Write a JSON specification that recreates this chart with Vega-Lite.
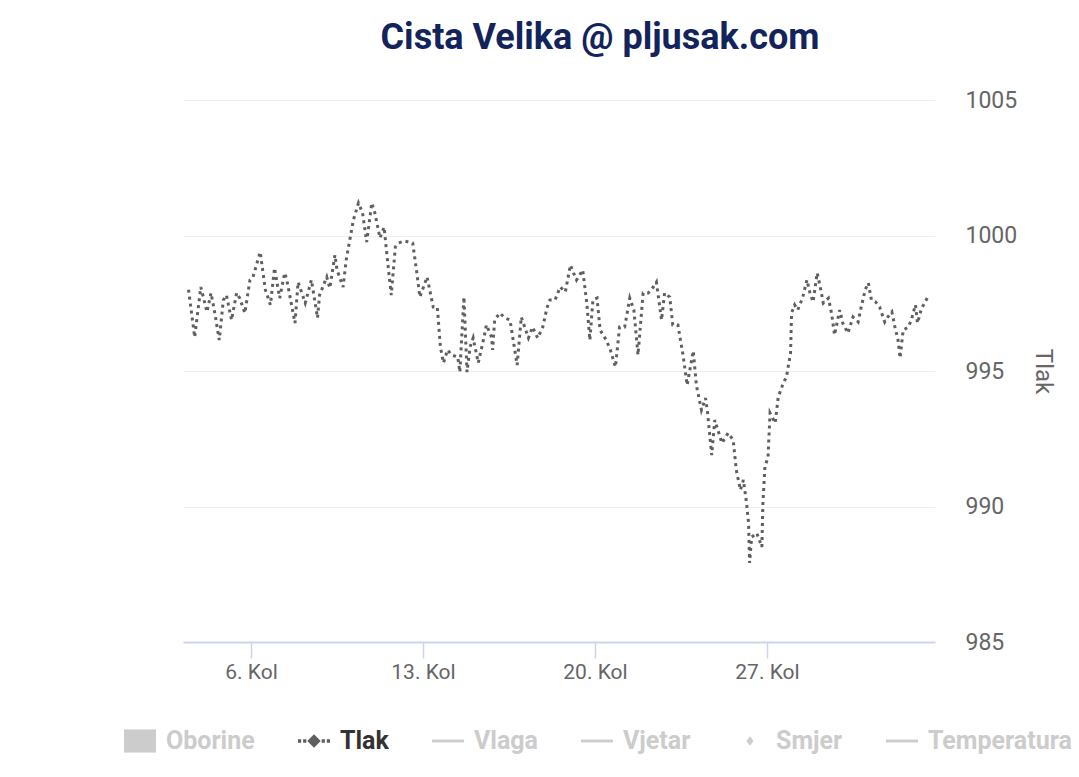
{
  "$schema": "https://vega.github.io/schema/vega-lite/v6.json",
  "autosize": "none",
  "padding": {"left": 183, "top": 100, "right": 144, "bottom": 135},
  "width": 752,
  "height": 542,
  "background": "white",
  "config": {"font": "Roboto", "view": {"stroke": null}},
  "title": {"text": "Cista Velika @ pljusak.com", "fontSize": 36, "fontWeight": "bold", "color": "#13235b", "anchor": "middle", "dx": 41, "offset": 32, "font": "Roboto"},
  "data": {"values": [
    {"t":"2023-08-03T11:00","p":998.0},{"t":"2023-08-03T17:00","p":996.25},{"t":"2023-08-03T23:00","p":998.1},{"t":"2023-08-04T05:00","p":997.18},
    {"t":"2023-08-04T09:00","p":997.88},{"t":"2023-08-04T13:00","p":997.07},{"t":"2023-08-04T17:00","p":996.14},{"t":"2023-08-04T21:00","p":997.62},
    {"t":"2023-08-05T00:00","p":997.8},{"t":"2023-08-05T05:00","p":996.88},{"t":"2023-08-05T10:00","p":997.88},{"t":"2023-08-05T13:00","p":997.69},
    {"t":"2023-08-05T18:00","p":997.14},{"t":"2023-08-05T23:00","p":998.36},{"t":"2023-08-06T02:00","p":998.47},{"t":"2023-08-06T09:00","p":999.39},
    {"t":"2023-08-06T11:00","p":998.84},{"t":"2023-08-06T14:00","p":998.0},{"t":"2023-08-06T19:00","p":997.44},{"t":"2023-08-06T23:00","p":998.8},
    {"t":"2023-08-07T04:00","p":997.69},{"t":"2023-08-07T09:00","p":998.62},{"t":"2023-08-07T11:00","p":998.36},{"t":"2023-08-07T19:00","p":996.77},
    {"t":"2023-08-07T22:00","p":998.28},{"t":"2023-08-08T05:00","p":997.51},{"t":"2023-08-08T11:00","p":998.36},{"t":"2023-08-08T17:00","p":996.96},
    {"t":"2023-08-08T19:00","p":997.8},{"t":"2023-08-09T02:00","p":998.47},{"t":"2023-08-09T05:00","p":998.06},{"t":"2023-08-09T10:00","p":999.28},
    {"t":"2023-08-09T12:00","p":998.73},{"t":"2023-08-09T18:00","p":998.1},{"t":"2023-08-09T21:00","p":999.1},{"t":"2023-08-10T01:00","p":999.94},
    {"t":"2023-08-10T04:00","p":1000.57},{"t":"2023-08-10T09:00","p":1001.2},{"t":"2023-08-10T13:00","p":1000.83},{"t":"2023-08-10T17:00","p":999.76},
    {"t":"2023-08-10T22:00","p":1001.2},{"t":"2023-08-11T01:00","p":1000.83},{"t":"2023-08-11T06:00","p":999.91},{"t":"2023-08-11T10:00","p":1000.31},
    {"t":"2023-08-11T13:00","p":999.21},{"t":"2023-08-11T17:00","p":997.8},{"t":"2023-08-11T21:00","p":999.58},{"t":"2023-08-12T00:00","p":999.72},
    {"t":"2023-08-12T06:00","p":999.8},{"t":"2023-08-12T14:00","p":999.72},{"t":"2023-08-12T18:00","p":998.62},{"t":"2023-08-12T21:00","p":997.73},
    {"t":"2023-08-13T04:00","p":998.47},{"t":"2023-08-13T10:00","p":997.36},{"t":"2023-08-13T14:00","p":997.36},{"t":"2023-08-13T17:00","p":995.89},
    {"t":"2023-08-13T20:00","p":995.3},{"t":"2023-08-14T00:00","p":995.78},{"t":"2023-08-14T04:00","p":995.59},{"t":"2023-08-14T10:00","p":995.52},
    {"t":"2023-08-14T12:00","p":994.96},{"t":"2023-08-14T16:00","p":997.73},{"t":"2023-08-14T19:00","p":994.96},{"t":"2023-08-14T22:00","p":995.89},
    {"t":"2023-08-15T01:00","p":996.22},{"t":"2023-08-15T06:00","p":995.3},{"t":"2023-08-15T11:00","p":996.14},{"t":"2023-08-15T14:00","p":996.7},
    {"t":"2023-08-15T19:00","p":996.25},{"t":"2023-08-15T20:00","p":995.78},{"t":"2023-08-15T22:00","p":996.88},{"t":"2023-08-16T03:00","p":997.14},
    {"t":"2023-08-16T08:00","p":996.96},{"t":"2023-08-16T13:00","p":996.88},{"t":"2023-08-16T20:00","p":995.22},{"t":"2023-08-17T00:00","p":996.99},
    {"t":"2023-08-17T07:00","p":996.22},{"t":"2023-08-17T11:00","p":996.62},{"t":"2023-08-17T16:00","p":996.22},{"t":"2023-08-17T21:00","p":996.62},
    {"t":"2023-08-18T01:00","p":997.32},{"t":"2023-08-18T04:00","p":997.62},{"t":"2023-08-18T09:00","p":997.62},{"t":"2023-08-18T14:00","p":998.1},
    {"t":"2023-08-18T19:00","p":997.92},{"t":"2023-08-19T00:00","p":998.91},{"t":"2023-08-19T03:00","p":998.62},{"t":"2023-08-19T06:00","p":998.36},
    {"t":"2023-08-19T12:00","p":998.73},{"t":"2023-08-19T16:00","p":997.51},{"t":"2023-08-19T19:00","p":996.14},{"t":"2023-08-19T22:00","p":997.62},
    {"t":"2023-08-20T02:00","p":997.69},{"t":"2023-08-20T05:00","p":996.51},{"t":"2023-08-20T11:00","p":996.14},{"t":"2023-08-20T15:00","p":995.78},
    {"t":"2023-08-20T20:00","p":995.15},{"t":"2023-08-21T00:00","p":996.62},{"t":"2023-08-21T05:00","p":996.62},{"t":"2023-08-21T10:00","p":997.69},
    {"t":"2023-08-21T14:00","p":997.25},{"t":"2023-08-21T18:00","p":995.59},{"t":"2023-08-21T23:00","p":997.88},{"t":"2023-08-22T04:00","p":997.88},
    {"t":"2023-08-22T09:00","p":998.1},{"t":"2023-08-22T12:00","p":998.28},{"t":"2023-08-22T17:00","p":996.88},{"t":"2023-08-22T20:00","p":997.88},
    {"t":"2023-08-23T01:00","p":997.73},{"t":"2023-08-23T04:00","p":996.7},{"t":"2023-08-23T09:00","p":996.7},{"t":"2023-08-23T14:00","p":995.59},
    {"t":"2023-08-23T18:00","p":994.48},{"t":"2023-08-24T00:00","p":995.74},{"t":"2023-08-24T03:00","p":994.48},{"t":"2023-08-24T08:00","p":993.56},
    {"t":"2023-08-24T12:00","p":994.0},{"t":"2023-08-24T14:00","p":993.45},{"t":"2023-08-24T18:00","p":991.9},{"t":"2023-08-24T21:00","p":993.19},
    {"t":"2023-08-25T04:00","p":992.34},{"t":"2023-08-25T10:00","p":992.71},{"t":"2023-08-25T15:00","p":992.45},{"t":"2023-08-25T18:00","p":991.35},
    {"t":"2023-08-25T22:00","p":990.61},{"t":"2023-08-26T01:00","p":990.98},{"t":"2023-08-26T04:00","p":990.13},{"t":"2023-08-26T06:00","p":989.39},
    {"t":"2023-08-26T07:00","p":987.92},{"t":"2023-08-26T09:00","p":988.87},{"t":"2023-08-26T14:00","p":989.02},{"t":"2023-08-26T19:00","p":988.51},
    {"t":"2023-08-26T20:00","p":990.13},{"t":"2023-08-26T22:00","p":991.46},{"t":"2023-08-27T01:00","p":991.83},{"t":"2023-08-27T03:00","p":993.45},
    {"t":"2023-08-27T08:00","p":993.08},{"t":"2023-08-27T11:00","p":994.04},{"t":"2023-08-27T16:00","p":994.56},{"t":"2023-08-27T19:00","p":994.78},
    {"t":"2023-08-27T23:00","p":995.66},{"t":"2023-08-28T00:00","p":997.14},{"t":"2023-08-28T03:00","p":997.44},{"t":"2023-08-28T06:00","p":997.25},
    {"t":"2023-08-28T11:00","p":997.73},{"t":"2023-08-28T15:00","p":998.36},{"t":"2023-08-28T18:00","p":997.88},{"t":"2023-08-28T21:00","p":997.55},
    {"t":"2023-08-29T01:00","p":998.62},{"t":"2023-08-29T04:00","p":998.1},{"t":"2023-08-29T07:00","p":997.51},{"t":"2023-08-29T12:00","p":997.69},
    {"t":"2023-08-29T15:00","p":997.14},{"t":"2023-08-29T18:00","p":996.33},{"t":"2023-08-29T23:00","p":997.25},{"t":"2023-08-30T02:00","p":996.77},
    {"t":"2023-08-30T07:00","p":996.4},{"t":"2023-08-30T12:00","p":996.99},{"t":"2023-08-30T17:00","p":996.81},{"t":"2023-08-30T20:00","p":997.36},
    {"t":"2023-08-31T00:00","p":998.0},{"t":"2023-08-31T03:00","p":998.25},{"t":"2023-08-31T06:00","p":997.62},{"t":"2023-08-31T10:00","p":997.55},
    {"t":"2023-08-31T14:00","p":997.36},{"t":"2023-08-31T19:00","p":996.81},{"t":"2023-08-31T22:00","p":996.99},{"t":"2023-09-01T02:00","p":997.18},
    {"t":"2023-09-01T05:00","p":996.62},{"t":"2023-09-01T08:00","p":996.14},{"t":"2023-09-01T10:00","p":995.48},{"t":"2023-09-01T13:00","p":996.51},
    {"t":"2023-09-01T18:00","p":996.62},{"t":"2023-09-01T21:00","p":996.88},{"t":"2023-09-02T01:00","p":997.44},{"t":"2023-09-02T03:00","p":996.77},
    {"t":"2023-09-02T07:00","p":997.32},{"t":"2023-09-02T10:00","p":997.51},{"t":"2023-09-02T13:00","p":997.73}
  ]},
  "mark": {"type": "line", "strokeWidth": 3, "strokeDash": [3, 4], "strokeCap": "butt", "interpolate": "linear"},
  "encoding": {
    "x": {
      "field": "t", "type": "temporal",
      "scale": {"domain": [{"year": 2023, "month": 8, "date": 3, "hours": 5, "minutes": 36}, {"year": 2023, "month": 9, "date": 2, "hours": 20, "minutes": 6}]},
      "axis": {
        "title": null, "grid": false,
        "values": [{"year": 2023, "month": 8, "date": 6}, {"year": 2023, "month": 8, "date": 13}, {"year": 2023, "month": 8, "date": 20}, {"year": 2023, "month": 8, "date": 27}],
        "labelExpr": "timeFormat(datum.value, '%-d') + '. Kol'",
        "labelFontSize": 21, "labelColor": "#666666", "labelPadding": 3,
        "domainColor": "#ccd6eb", "domainWidth": 2,
        "tickColor": "#ccd6eb", "tickWidth": 1.5, "tickSize": 16
      }
    },
    "y": {
      "field": "p", "type": "quantitative",
      "scale": {"domain": [985, 1005], "nice": false, "zero": false},
      "axis": {
        "orient": "right", "title": "Tlak", "values": [985, 990, 995, 1000, 1005], "format": "d",
        "domain": false, "ticks": false, "labelPadding": 30,
        "labelFontSize": 23, "labelColor": "#666666",
        "gridColor": "#efefef", "gridWidth": 1,
        "titleFontSize": 24, "titleFontWeight": "normal", "titleColor": "#666666", "titlePadding": 14
      }
    },
    "color": {
      "datum": "Tlak",
      "scale": {"domain": ["Oborine", "Tlak", "Vlaga", "Vjetar", "Smjer", "Temperatura"], "range": ["#cccccc", "#5f5f5f", "#cccccc", "#cccccc", "#cccccc", "#cccccc"]},
      "legend": {
        "title": null, "orient": "none", "legendX": -59, "legendY": 625,
        "direction": "horizontal", "columns": 6, "columnPadding": 43,
        "symbolSize": 1024, "labelOffset": 10,
        "labelFontSize": 25, "labelFontWeight": "bold", "labelFont": "Roboto",
        "encode": {
          "symbols": {"update": {
            "shape": {"signal": "datum.value === 'Oborine' ? 'M-1,-0.72H1V0.72H-1Z' : datum.value === 'Tlak' ? 'M-1,-0.11H-0.8V0.11H-1Z M-0.68,-0.11H-0.48V0.11H-0.68Z M0,-0.42L0.42,0L0,0.42L-0.42,0Z M0.48,-0.11H0.68V0.11H0.48Z M0.8,-0.11H1V0.11H0.8Z' : datum.value === 'Smjer' ? 'M0,-0.3L0.22,0L0,0.3L-0.22,0Z' : 'M-1,-0.09H1V0.09H-1Z'"},
            "fill": {"signal": "datum.value === 'Tlak' ? '#5f5f5f' : '#cccccc'"},
            "stroke": {"value": "transparent"},
            "strokeWidth": {"value": 0},
            "opacity": {"value": 1},
            "size": {"value": 1024}
          }},
          "labels": {"update": {
            "fill": {"signal": "datum.value === 'Tlak' ? '#333333' : '#cccccc'"}
          }}
        }
      }
    }
  }
}
